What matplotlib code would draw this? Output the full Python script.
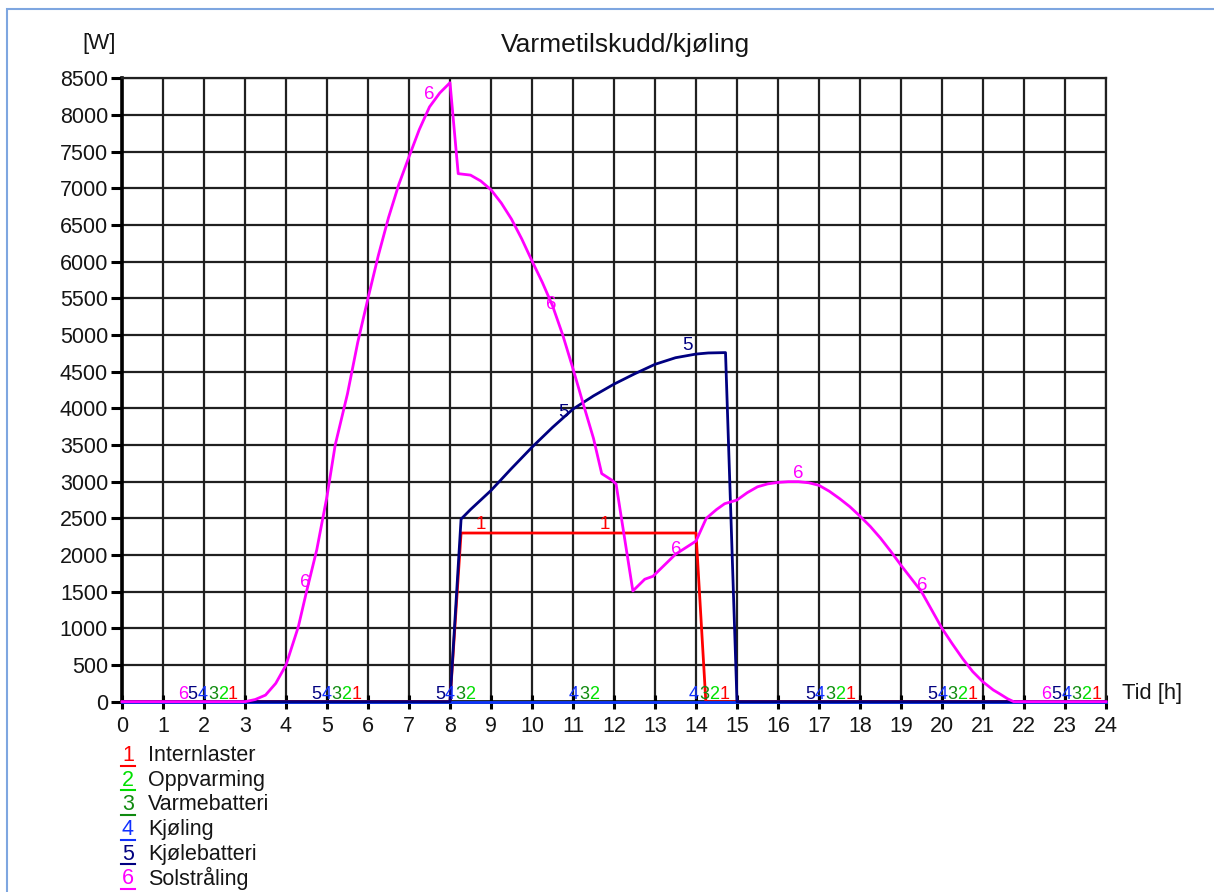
import matplotlib
matplotlib.use("Agg")
import matplotlib.pyplot as plt
from matplotlib.patches import Rectangle

plt.rcParams["font.family"] = ["Liberation Sans", "DejaVu Sans"]

# series colours (1..6)
C_INTERN = "#ff0000"
C_OPPV = "#00e000"
C_VARMEB = "#108a10"
C_KJOL = "#1030ff"
C_KJOLEB = "#000080"
C_SOL = "#ff00ff"
C_TEXT = "#151515"

# ── data ──────────────────────────────────────────────────────────────────────
legend_names = ["Internlaster", "Oppvarming", "Varmebatteri",
                "Kjøling", "Kjølebatteri", "Solstråling"]

intern_t = [0, 8.0, 8.27, 14.0, 14.24, 24]
intern_w = [0, 0, 2300, 2300, 0, 0]

oppv_t = [0, 24]
oppv_w = [0, 0]

varmeb_t = [0, 24]
varmeb_w = [0, 0]

kjol_t = [0, 24]
kjol_w = [0, 0]

kjoleb_t = [0, 8.0, 8.27, 8.5, 9, 9.5, 10, 10.5, 11, 11.5, 12, 12.5, 13,
            13.5, 14, 14.3, 14.72, 15.0, 24]
kjoleb_w = [0, 0, 2490, 2620, 2880, 3180, 3470, 3740, 3990, 4170, 4330,
            4470, 4600, 4690, 4740, 4755, 4760, 0, 0]

sol_t = [0, 3, 3.25, 3.5, 3.75, 4, 4.3, 4.5, 4.75, 5, 5.2, 5.5, 5.75, 6,
         6.25, 6.5, 6.75, 7, 7.25, 7.5, 7.75, 8, 8.2, 8.5, 8.75, 9, 9.25,
         9.5, 9.75, 10, 10.25, 10.5, 10.75, 11, 11.25, 11.5, 11.7, 11.95,
         12.05, 12.46, 12.75, 12.95, 13.5, 14, 14.25, 14.5, 14.7, 15, 15.25,
         15.5, 15.75, 16, 16.25, 16.5, 16.75, 17, 17.25, 17.5, 17.75, 18,
         18.25, 18.5, 18.75, 19, 19.25, 19.5, 19.75, 20, 20.25, 20.5, 20.75,
         21, 21.25, 21.4, 21.6, 21.75, 24]
sol_w = [0, 0, 30, 90, 250, 500, 1020, 1500, 2070, 2800, 3500, 4200, 4900,
         5500, 6080, 6600, 7050, 7430, 7800, 8110, 8300, 8440, 7200, 7180,
         7100, 6980, 6800, 6580, 6310, 6010, 5720, 5400, 5000, 4540, 4060,
         3590, 3110, 3020, 2970, 1510, 1670, 1710, 2010, 2190, 2500, 2620,
         2700, 2750, 2850, 2930, 2970, 2990, 3000, 3000, 2985, 2950, 2870,
         2770, 2660, 2530, 2390, 2230, 2050, 1860, 1680, 1500, 1250, 1000,
         790, 590, 410, 270, 160, 110, 40, 0, 0]

# numbered markers sitting on the curves: (series, hour, watt)
curve_tags = [(6, 7.5, 8280), (6, 10.48, 5420), (6, 4.47, 1620),
              (6, 13.51, 2070), (6, 16.49, 3115), (6, 19.52, 1590),
              (5, 10.77, 3950), (5, 13.79, 4860),
              (1, 8.74, 2410), (1, 11.77, 2410)]

# stacked id strings along the zero line: (start hour, digits)
zero_tags = [(1.36, "654321"), (4.62, "54321"), (7.63, "5432"),
             (10.9, "432"), (13.83, "4321"), (16.66, "54321"),
             (19.64, "54321"), (22.42, "654321")]

hours = list(range(0, 25))
watts = list(range(0, 8501, 500))

colors = {1: C_INTERN, 2: C_OPPV, 3: C_VARMEB, 4: C_KJOL, 5: C_KJOLEB, 6: C_SOL}

# ── figure ────────────────────────────────────────────────────────────────────
fig = plt.figure(figsize=(12.14, 8.92), dpi=100)
fig.patch.set_facecolor("white")
fig.add_artist(Rectangle((7 / 1214, -0.2), 1.3, 1.2 - 9 / 892,
                         transform=fig.transFigure, fill=False,
                         edgecolor="#7ea6e0", lw=1.5))

ax = fig.add_axes([122 / 1214, 1 - 701.7 / 892, 984 / 1214, 623.4 / 892])
ax.set_xlim(0, 24)
ax.set_ylim(0, 8500)
ax.set_xticks(hours)
ax.set_yticks(watts)
ax.grid(True, color="#202020", lw=1.6, zorder=0)
ax.set_axisbelow(True)

for s in ("left", "bottom"):
    ax.spines[s].set_linewidth(2.6)
    ax.spines[s].set_color("black")
for s in ("right", "top"):
    ax.spines[s].set_linewidth(1.6)
    ax.spines[s].set_color("#202020")

ax.tick_params(axis="y", direction="out", length=8, width=2.2,
               labelsize=15.5, labelcolor=C_TEXT, pad=2)
ax.tick_params(axis="x", direction="inout", length=10, width=2.2,
               labelsize=15.5, labelcolor=C_TEXT, pad=5)

series = [(intern_t, intern_w), (oppv_t, oppv_w), (varmeb_t, varmeb_w),
          (kjol_t, kjol_w), (kjoleb_t, kjoleb_w), (sol_t, sol_w)]
for i, (t, w) in enumerate(series, start=1):
    ax.plot(t, w, color=colors[i], lw=2.0, zorder=3 + i, clip_on=False,
            solid_joinstyle="round")

for sid, h, w in curve_tags:
    ax.text(h, w, str(sid), color=colors[sid], fontsize=13.5,
            ha="center", va="center", zorder=12)

for h0, digits in zero_tags:
    for k, d in enumerate(digits):
        ax.text(h0 + k * 0.245, 40, d, color=colors[int(d)], fontsize=13,
                ha="left", va="baseline", zorder=12)

# title and axis captions
fig.text(625 / 1214, 1 - 45 / 892, "Varmetilskudd/kjøling", fontsize=19,
         ha="center", va="center", color=C_TEXT)
fig.text(99 / 1214, 1 - 43 / 892, "[W]", fontsize=16,
         ha="center", va="center", color=C_TEXT)
fig.text(1122 / 1214, 1 - 693 / 892, "Tid [h]", fontsize=15.8,
         ha="left", va="center", color=C_TEXT)

# legend: underlined coloured id followed by name
row_y = [755.7, 780.3, 805, 829.6, 854.2, 878.8]
for i, (name, y) in enumerate(zip(legend_names, row_y), start=1):
    fy = 1 - y / 892
    fig.text(128 / 1214, fy, str(i), fontsize=15.5, color=colors[i],
             ha="center", va="center")
    fig.add_artist(plt.Line2D([121 / 1214, 135 / 1214],
                              [fy - 10 / 892, fy - 10 / 892],
                              color=colors[i], lw=1.5,
                              transform=fig.transFigure))
    fig.text(148 / 1214, fy, name, fontsize=15.5, color=C_TEXT,
             ha="left", va="center")

fig.savefig("out.png", dpi=100, facecolor="white")
